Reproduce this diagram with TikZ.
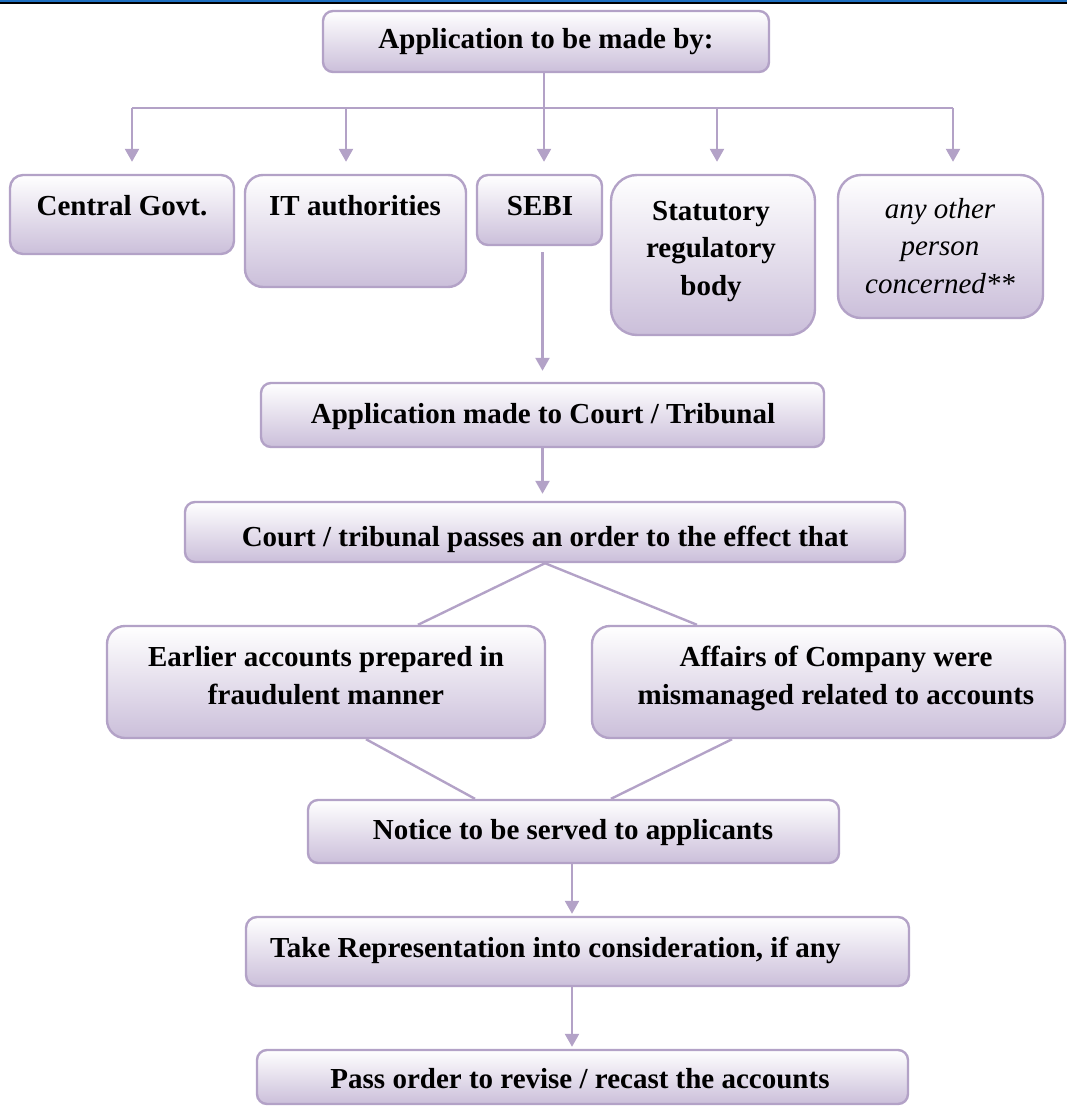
\documentclass[tikz,border=0pt]{standalone}
\usepackage{fontspec}
\setmainfont{Liberation Serif}
\usetikzlibrary{arrows.meta,calc}
\definecolor{lavline}{HTML}{B3A2C7}
\definecolor{lavfill}{HTML}{CBBFDA}
\definecolor{hdrblue}{HTML}{1F70C1}
\tikzset{
  box/.style={draw=lavline, line width=2.4pt, top color=white, bottom color=lavfill,
              inner sep=0pt, rectangle},
  lbl/.style={inner sep=0pt, anchor=base, align=center, text=black,
              font=\fontsize{29}{37.5}\selectfont\bfseries},
  link/.style={draw=lavline, line width=2.4pt},
  arr/.style={link, -{Triangle[width=14pt,length=13pt]}},
}
\begin{document}
\begin{tikzpicture}[x=1pt,y=-1pt]
\useasboundingbox (0,0) rectangle (1067,1107);

% page header rule
\fill[hdrblue] (0,0) rectangle (1067,2.3);
\fill[black] (0,2.3) rectangle (1067,3.6);

% boxes
\node[box, minimum width=446, minimum height=61, rounded corners=10pt] (top) at (546,41.5) {};
\node[box, minimum width=224, minimum height=79, rounded corners=13pt] (cg) at (122,214.5) {};
\node[box, minimum width=221, minimum height=112, rounded corners=18pt] (it) at (355.5,231) {};
\node[box, minimum width=125, minimum height=70, rounded corners=11pt] (sebi) at (539.5,210) {};
\node[box, minimum width=204, minimum height=160, rounded corners=26pt] (stat) at (713,255) {};
\node[box, minimum width=205, minimum height=143, rounded corners=23pt] (oth) at (940.5,246.5) {};
\node[box, minimum width=563, minimum height=64, rounded corners=10pt] (appc) at (542.5,415) {};
\node[box, minimum width=720, minimum height=60, rounded corners=10pt] (court) at (545,532) {};
\node[box, minimum width=438, minimum height=112, rounded corners=18pt] (earl) at (326,682) {};
\node[box, minimum width=473, minimum height=112, rounded corners=18pt] (aff) at (828.5,682) {};
\node[box, minimum width=531, minimum height=63, rounded corners=10pt] (notice) at (573.5,831.5) {};
\node[box, minimum width=663, minimum height=69, rounded corners=11pt] (take) at (577.5,951.5) {};
\node[box, minimum width=651, minimum height=54, rounded corners=10pt] (pass) at (582.5,1077) {};

% texts (multi-line labels are placed by the baseline of their last line)
\node[lbl] (topT) at (546,49) {Application to be made by:};
\node[lbl] (cgT) at (122,215) {Central Govt.};
\node[lbl] (itT) at (355,215) {IT authorities};
\node[lbl] (sebiT) at (540,215) {SEBI};
\node[lbl] (statT) at (711,295) {Statutory\\regulatory\\body};
\node[lbl, font=\fontsize{29}{37.5}\selectfont\mdseries\itshape] (othT) at (940,293) {any other\\person\\concerned**};
\node[lbl] (appcT) at (543,423) {Application made to Court / Tribunal};
\node[lbl] (courtT) at (545,546) {Court / tribunal passes an order to the effect that};
\node[lbl] (earlT) at (326,704) {Earlier accounts prepared in\\fraudulent manner};
\node[lbl] (affT) at (836,704) {Affairs of Company were\\mismanaged related to accounts};
\node[lbl] (noticeT) at (573,839) {Notice to be served to applicants};
\node[lbl, anchor=base west] (takeT) at (270,957) {Take Representation into consideration, if any};
\node[lbl] (passT) at (580,1088) {Pass order to revise / recast the accounts};

% distribution bus below the first box
\coordinate (b1) at (132,108);
\coordinate (b2) at (346,108);
\coordinate (b3) at (544,108);
\coordinate (b4) at (717,108);
\coordinate (b5) at (953,108);
\draw[link] (b3 |- top.south) -- (b3);
\draw[link] (b1) -- (b5);
\draw[arr, shorten >=12pt] (b1) -- (b1 |- cg.north);
\draw[arr, shorten >=12pt] (b2) -- (b2 |- it.north);
\draw[arr, shorten >=12pt] (b3) -- (b3 |- sebi.north);
\draw[arr, shorten >=12pt] (b4) -- (b4 |- stat.north);
\draw[arr, shorten >=12pt] (b5) -- (b5 |- oth.north);

% main flow
\draw[arr, shorten <=6pt, shorten >=11pt] (appc.north |- sebi.south) -- (appc.north);
\draw[arr, shorten >=7pt] (appc.south) -- (appc.south |- court.north);
\draw[link] (court.south) -- ([xshift=92pt]earl.north);
\draw[link] (court.south) -- ([xshift=-131.5pt]aff.north);
\draw[link] ([xshift=40pt]earl.south) -- ([xshift=-98.5pt]notice.north);
\draw[link] ([xshift=-96.5pt]aff.south) -- ([xshift=37.5pt]notice.north);
\coordinate (mx) at (572,0);
\draw[arr, shorten >=2pt] (mx |- notice.south) -- (mx |- take.north);
\draw[arr, shorten >=2pt] (mx |- take.south) -- (mx |- pass.north);
\end{tikzpicture}
\end{document}
